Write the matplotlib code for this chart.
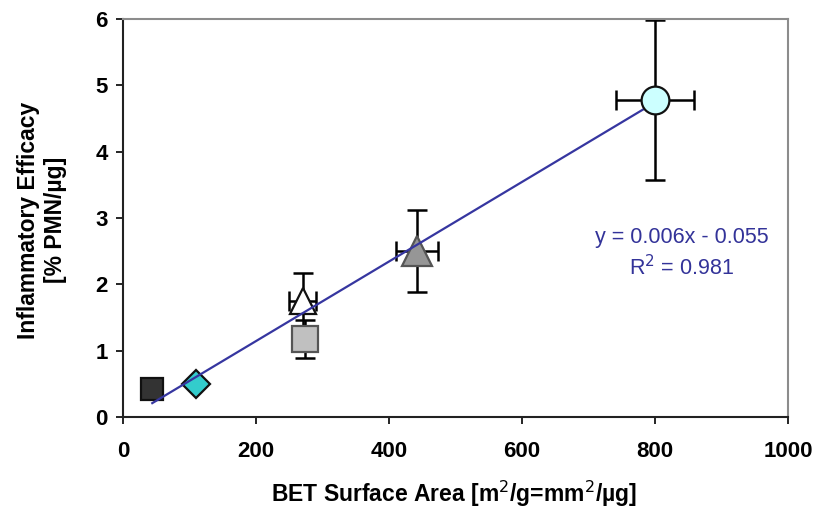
import matplotlib
matplotlib.use("Agg")
import matplotlib.pyplot as plt
import numpy as np

plt.rcParams['font.family'] = ['Liberation Sans', 'DejaVu Sans']

# Particle samples: BET surface area vs inflammatory efficacy
surface_area = [44, 110, 274, 270, 442, 800]
efficacy = [0.42, 0.50, 1.18, 1.75, 2.50, 4.78]
efficacy_err = [0.0, 0.0, 0.29, 0.42, 0.62, 1.20]
area_err = [0.0, 0.0, 0.0, 20, 31, 58]
markers = ['s', 'D', 's', '^', '^', 'o']
face_colors = ['#333333', '#33CCCC', '#C0C0C0', '#FFFFFF', '#969696', '#CCFFFF']
marker_sizes = [16, 14, 19, 19, 21, 20]

# Linear trend line
slope = 0.006
intercept = -0.055
r_squared = 0.981

fig = plt.figure(figsize=(8.24, 5.18), dpi=100)
ax = fig.add_axes([0.1493, 0.195, 0.807, 0.768])

fit_x = np.array([min(surface_area), max(surface_area)])
ax.plot(fit_x, slope * fit_x + intercept, color='#3636A0', lw=1.6, zorder=4)

for x, y, ye, xe, m, fc, ms in zip(surface_area, efficacy, efficacy_err, area_err,
                                   markers, face_colors, marker_sizes):
    if ye > 0 or xe > 0:
        ax.errorbar(x, y, yerr=ye if ye > 0 else None, xerr=xe if xe > 0 else None,
                    fmt='none', ecolor='black', elinewidth=1.8, capsize=7,
                    capthick=1.8, zorder=2)
    edge = '#111111' if fc not in ('#C0C0C0', '#969696') else '#555555'
    ax.plot(x, y, marker=m, ms=ms, mfc=fc, mec=edge, mew=1.6,
            linestyle='none', zorder=3 if m != 'o' else 5)

ax.text(840, 2.71, f"y = {slope}x - {abs(intercept)}", color='#333399',
        fontsize=15.5, ha='center', va='center')
ax.text(840, 2.26, f"R$^2$ = {r_squared}", color='#333399',
        fontsize=15.5, ha='center', va='center')

ax.set_xlim(0, 1000)
ax.set_ylim(0, 6)
ax.set_xticks(range(0, 1001, 200))
ax.set_yticks(range(0, 7))
ax.tick_params(direction='out', length=5, width=1.2, labelsize=16)
ax.tick_params(axis='x', pad=12)
ax.tick_params(axis='y', pad=6)
for lab in ax.get_xticklabels() + ax.get_yticklabels():
    lab.set_fontweight('bold')

for side in ('left', 'bottom'):
    ax.spines[side].set_color('#222222')
    ax.spines[side].set_linewidth(1.5)
for side in ('top', 'right'):
    ax.spines[side].set_color('#8C8C8C')
    ax.spines[side].set_linewidth(1.5)

ax.set_xlabel("BET Surface Area [m$^2$/g=mm$^2$/µg]", fontsize=16.5,
              fontweight='bold', va='center')
ax.xaxis.set_label_coords(0.498, -0.193)
ax.set_ylabel("Inflammatory Efficacy\n[% PMN/µg]", fontsize=16.5,
              fontweight='bold', va='center')
ax.yaxis.set_label_coords(-0.122, 0.495)

fig.savefig("out.png", dpi=100)
